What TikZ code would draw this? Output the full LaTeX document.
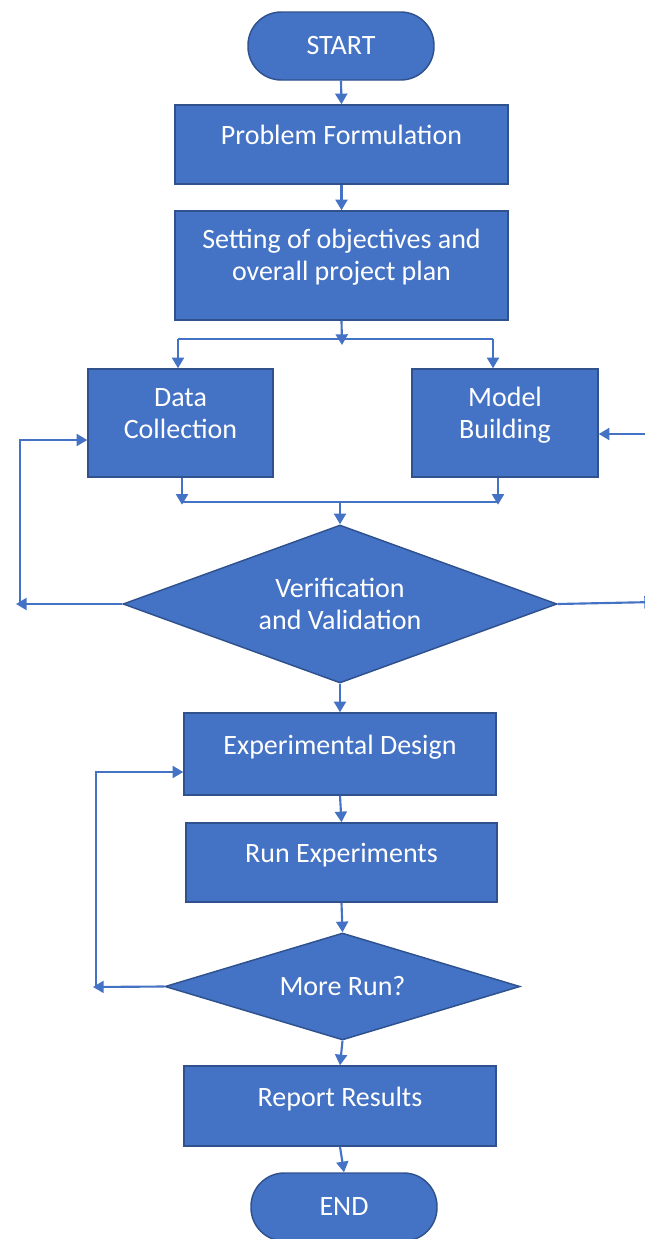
\documentclass[tikz,border=0pt]{standalone}
\usepackage{fontspec}
\setmainfont{Carlito}
\usetikzlibrary{shapes.geometric,arrows.meta}
\definecolor{boxfill}{HTML}{4472C4}
\definecolor{boxline}{HTML}{2F528F}
\tikzset{
	blk/.style={draw=boxline, fill=boxfill, line width=1.1pt, text=white, align=center, inner sep=0pt, font=\fontsize{21}{24}\selectfont},
	proc/.style={blk, rectangle, text height=14pt, text depth=14pt},
	proctwo/.style={blk, rectangle, text height=30pt, text depth=7.5pt},
	term/.style={blk, rectangle, rounded corners=25pt},
	dec/.style={blk, diamond},
	arr/.style={draw=boxfill, line width=1.6pt, -{Triangle[length=8pt,width=9pt]}},
	bus/.style={draw=boxfill, line width=1pt},
}
\begin{document}
\begin{tikzpicture}[x=0.75pt,y=-0.75pt]
	\clip (0,0) rectangle (645,1239);

	\node[term, minimum width=139.5pt, minimum height=51pt] (st) at (341,46) {START};
	\node[proc, minimum width=249.75pt, minimum height=59.25pt] (pf) at (341.5,144.5) {Problem Formulation};
	\node[proctwo, minimum width=249.75pt, minimum height=81.75pt] (so) at (341.5,265.5) {Setting of objectives and\\overall project plan};
	\node[proctwo, minimum width=138.75pt, minimum height=81pt] (dc) at (180.5,423) {Data\\Collection};
	\node[proctwo, minimum width=139.5pt, minimum height=81pt] (mb) at (505,423) {Model\\Building};
	\node[dec, shape aspect=2.75, minimum width=325.5pt, minimum height=118.5pt] (vv) at (340,604) {Verification\\and Validation};
	\node[proc, minimum width=234pt, minimum height=61.5pt] (ed) at (340,754) {Experimental Design};
	\node[proc, minimum width=233.25pt, minimum height=59.25pt] (re) at (341.5,862.5) {Run Experiments};
	\node[dec, shape aspect=3.3, minimum width=266.25pt, minimum height=80.25pt] (mr) at (342.5,986.5) {More Run?};
	\node[proc, minimum width=234pt, minimum height=60pt] (rr) at (340,1106) {Report Results};
	\node[term, minimum width=139.5pt, minimum height=51pt] (en) at (344,1207) {END};

	\draw[arr] (st.south) -- (pf.north);
	\draw[arr] (pf.south) -- (so.north);

	% split to data and model
	\coordinate (sp) at (342,345);
	\coordinate (bl) at (178,339);
	\coordinate (br) at (493,339);
	\draw[bus] (bl) -- (br);
	\draw[arr] (so.south) -- (sp);
	\draw[arr] (bl) -- (bl |- dc.north);
	\draw[arr] (br) -- (br |- mb.north);

	% join into verification
	\coordinate (jl) at (182,502);
	\coordinate (jr) at (498,502);
	\draw[arr] (jl |- dc.south) -- ++(0,27);
	\draw[arr] (jr |- mb.south) -- ++(0,27);
	\draw[bus] (jl) -- (jr);
	\draw[arr] (vv.north |- jl) -- (vv.north);

	% loops back
	\coordinate (lv) at (16,604);
	\coordinate (lu) at (20,604);
	\draw[arr] (vv.west) -- (lv);
	\draw[bus, arr] (lu) |- ([yshift=-12.75pt]dc.west);
	\coordinate (rv) at (655,602);
	\coordinate (ru) at (648,434);
	\draw[arr] (vv.east) -- (rv);
	\draw[arr] (ru) -- (mb.east |- ru);

	\draw[arr] (vv.south) -- (ed.north);
	\draw[arr] (ed.south) -- (re.north);
	\draw[arr] (re.south) -- (mr.north);

	\coordinate (ml) at (93,987);
	\coordinate (mu) at (96,987);
	\draw[arr] (mr.west) -- (ml);
	\draw[bus, arr] (mu) |- ([yshift=-13.5pt]ed.west);

	\draw[arr] (mr.south) -- (rr.north);
	\draw[arr] (rr.south) -- (en.north);
\end{tikzpicture}
\end{document}
